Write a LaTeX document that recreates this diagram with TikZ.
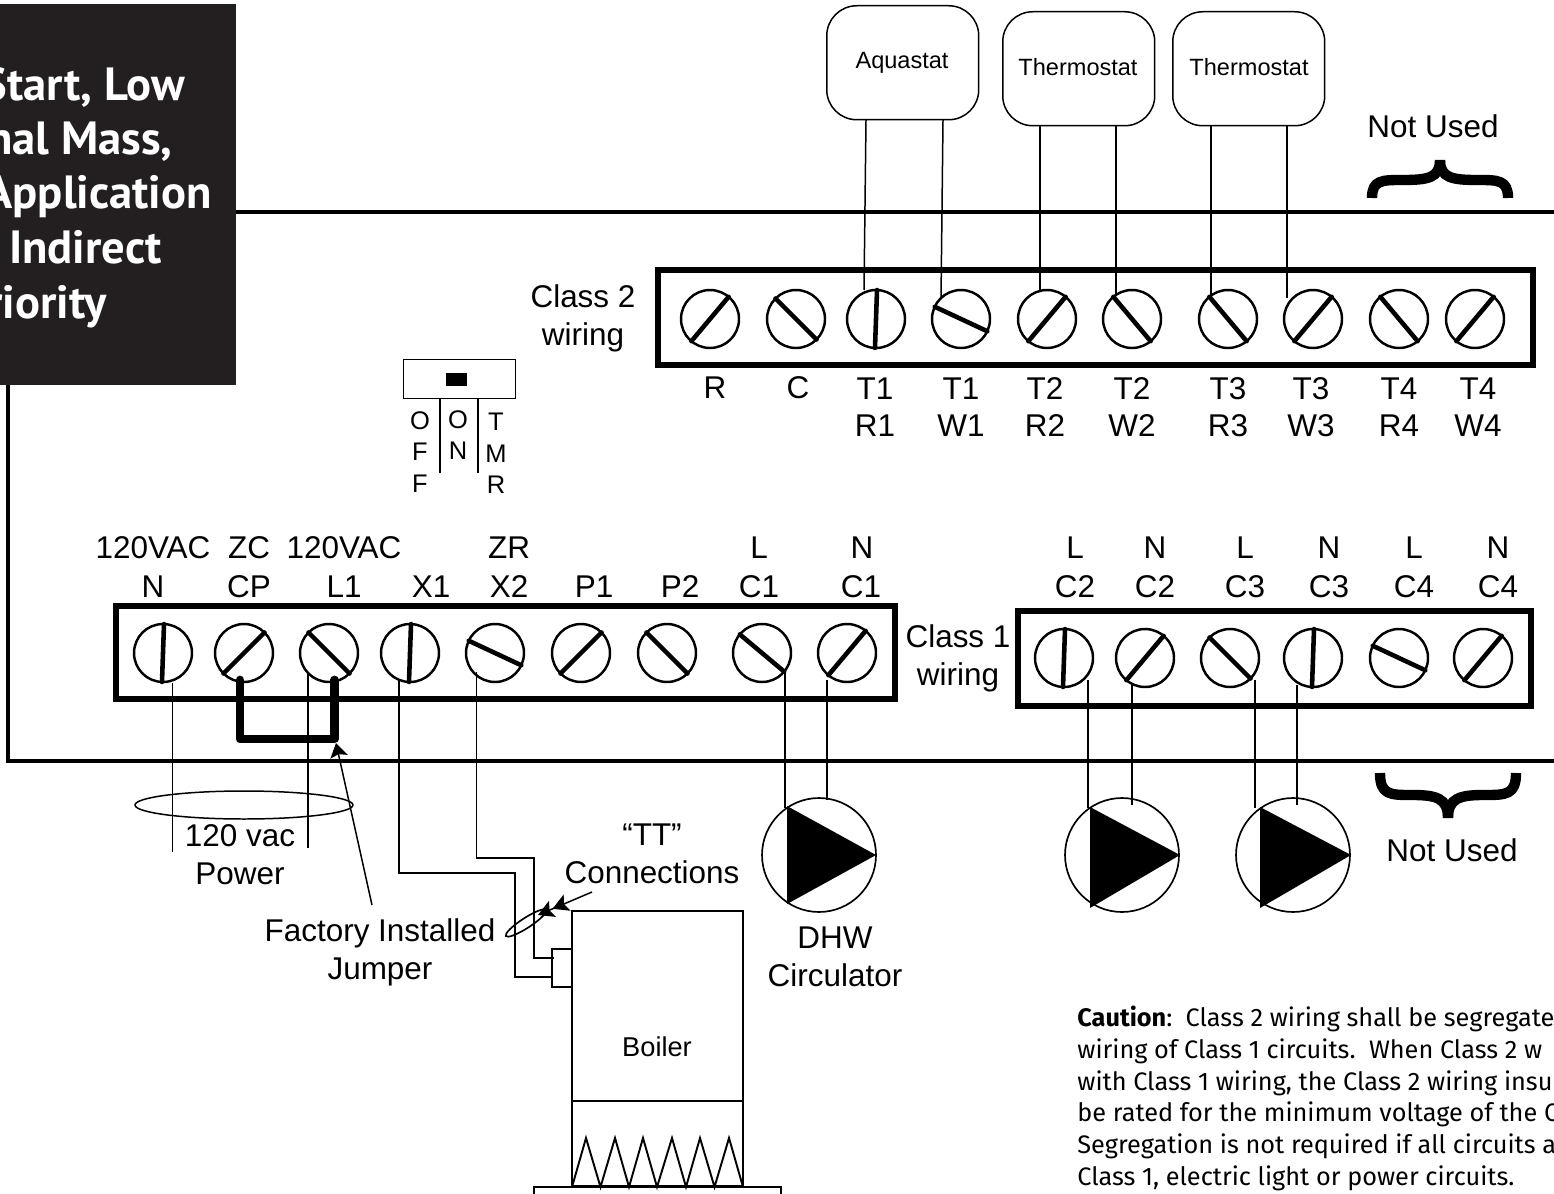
\documentclass[tikz,border=0pt]{standalone}
\usepackage{fontspec}
\setmainfont{Liberation Sans}
\newfontfamily\bannerfont{PT Sans}
\newfontfamily\cautionfont{Fira Sans}
\usetikzlibrary{shapes,arrows.meta}
\tikzstyle{lbl} = [inner sep=0pt,align=center,font=\fontsize{17.9}{21.6}\selectfont]
\tikzstyle{smalllbl} = [inner sep=0pt,align=center,font=\fontsize{13.4}{17.6}\selectfont]
\tikzstyle{switchlbl} = [inner sep=0pt,align=center,font=\fontsize{14.5}{17.9}\selectfont]
\tikzstyle{screw} = [circle,draw,line width=1.4pt,minimum size=1.16cm,inner sep=0pt,outer sep=0pt]
\tikzstyle{slot} = [line width=2.6pt,line cap=round]
\tikzstyle{wire} = [line width=0.85pt]
\tikzstyle{strip} = [rectangle,draw,line width=3.4pt,inner sep=0pt,outer sep=0pt,anchor=north west]
\tikzstyle{stat} = [rectangle,draw,rounded corners=0.6cm,line width=0.85pt,minimum width=3.04cm,minimum height=2.28cm,inner sep=0pt,anchor=north west]
\tikzstyle{pump} = [circle,draw,line width=0.95pt,minimum size=2.28cm,inner sep=0pt,outer sep=0pt]
\tikzstyle{frame} = [line width=1.9pt]
\tikzstyle{bracket} = [line width=5.9pt]
\tikzstyle{outline} = [line width=1.1pt]
\tikzstyle{pointer} = [line width=0.85pt,-{Stealth[length=8pt,width=10pt,inset=1.5pt]}]

\begin{document}
\begin{tikzpicture}[x=0.02cm,y=-0.02cm]
	\useasboundingbox (0,0) rectangle (1554,1193);

	\coordinate (frametop) at (236,212);
	\coordinate (frametopend) at (1554,212);
	\coordinate (frameleft) at (8,385);
	\coordinate (framecorner) at (8,761);
	\coordinate (framebotend) at (1554,761);
	\draw[frame] (frametop) -- (frametopend);
	\draw[frame] (frameleft) -- (framecorner) -- (framebotend);

	\node[fill={rgb,255:red,35;green,31;blue,32},minimum width=4.82cm,minimum height=7.62cm,inner sep=0pt,anchor=north west] (banner) at (-5,4) {};
	\foreach \n/\x/\y/\t in {a/185/100/{Start, Low},b/173/154/{nal Mass,},c/212/208/{Application},d/162/263/{Indirect},e/107/318/{riority}}
		\node[white,inner sep=0pt,anchor=base east,font=\bannerfont\bfseries\fontsize{26.5}{30}\selectfont] (banner\n) at (\x,\y) {\t};

	\node[stat] (aquastat) at (826,5) {};
	\node[stat] (thermostata) at (1002,11) {};
	\node[stat] (thermostatb) at (1172,11) {};
	\node[smalllbl] (aquastatlbl) at (902,63) {Aquastat};
	\node[smalllbl] (thermostatalbl) at (1078,67) {Thermostat};
	\node[smalllbl] (thermostatblbl) at (1249,67) {Thermostat};

	\node[lbl] (notusedtop) at (1433,126) {Not Used};
	\coordinate (bta) at (1372,198);
	\coordinate (btb) at (1440,160);
	\coordinate (btc) at (1508,198);
	\draw[bracket] (bta) .. controls (1372,180) and (1382,180) .. (1402,180) .. controls (1428,180) and (1440,178) .. (btb);
	\draw[bracket] (btc) .. controls (1508,180) and (1498,180) .. (1478,180) .. controls (1452,180) and (1440,178) .. (btb);

	\node[strip,minimum width=17.5cm,minimum height=1.9cm] (classtwo) at (658,270) {};
	\foreach \n/\x/\a/\b in {r/710/50/230,c/796/135/315,ta/876/88/268,tb/961/155/335,tc/1047/50/230,td/1132/130/310,te/1228/130/310,tf/1313/50/230,tg/1399/130/310,th/1475/50/230} {
		\node[screw] (s\n) at (\x,319) {};
		\draw[slot] (s\n.\a) -- (s\n.\b);
	}
	\node[lbl] (classtwolbl) at (583,318) {Class 2\\wiring};
	\node[lbl] (lblr) at (715,388) {R};
	\node[lbl] (lblc) at (798,388) {C};
	\foreach \n/\x/\ta/\tb in {ta/875/T1/R1,tb/961/T1/W1,tc/1045/T2/R2,td/1132/T2/W2,te/1228/T3/R3,tf/1311/T3/W3,tg/1399/T4/R4,th/1478/T4/W4} {
		\node[lbl,anchor=base] (lbl\n) at (\x,399) {\ta};
		\node[lbl,anchor=base] (sub\n) at (\x,436) {\tb};
	}

	\foreach \n/\xa/\ya/\xb/\yb in {a/866/120/864/290,b/943/120/941/298,c/1040/125/1040/290,d/1116/125/1116/296,e/1211/125/1211/298,f/1287/125/1287/298} {
		\coordinate (wt\n) at (\xa,\ya);
		\coordinate (wb\n) at (\xb,\yb);
		\draw[wire] (wt\n) -- (wb\n);
	}

	\node[rectangle,draw,line width=0.85pt,minimum width=2.24cm,minimum height=0.78cm,inner sep=0pt,anchor=north west] (switch) at (403,359) {};
	\node[fill,minimum width=0.42cm,minimum height=0.26cm,inner sep=0pt] (knob) at (456,379.5) {};
	\coordinate (diva) at (440,473);
	\coordinate (divb) at (478,473);
	\draw[wire] (diva |- switch.south) -- (diva);
	\draw[wire] (divb |- switch.south) -- (divb);
	\node[switchlbl,anchor=north] (off) at (420,411) {O\\F\\F};
	\node[switchlbl,anchor=north] (on) at (458,410) {O\\N};
	\node[switchlbl,anchor=north] (tmr) at (496,413) {T\\M\\R};

	\foreach \n/\x/\t in {a/153/120VAC,b/249/ZC,c/344/120VAC,d/509/ZR,e/759/L,f/862/N,g/1075/L,h/1155/N,i/1245/L,j/1329/N,k/1414/L,l/1498/N}
		\node[lbl,anchor=base] (topl\n) at (\x,558) {\t};
	\foreach \n/\x/\t in {a/153/N,b/249/CP,c/344/L1,d/431/X1,e/509/X2,f/594/P1,g/680/P2,h/759/C1,i/861/C1,j/1075/C2,k/1155/C2,l/1245/C3,m/1329/C3,n/1414/C4,o/1498/C4}
		\node[lbl,anchor=base] (botl\n) at (\x,597) {\t};

	\node[strip,minimum width=15.58cm,minimum height=1.86cm] (classoneleft) at (116,606) {};
	\foreach \n/\x/\a/\b in {la/163/88/268,lb/244/45/225,lc/329/135/315,ld/410/88/268,le/495/155/335,lf/581/45/225,lg/667/135/315,lh/762/140/320,li/847/50/230}{
		\node[screw] (s\n) at (\x,653) {};
		\draw[slot] (s\n.\a) -- (s\n.\b);
	}
	\node[strip,minimum width=10.26cm,minimum height=1.9cm] (classoneright) at (1018,611) {};
	\foreach \n/\x/\a/\b in {ra/1064/88/268,rb/1145/50/230,rc/1230/135/315,rd/1313/88/268,re/1399/155/335,rf/1483/50/230}{
		\node[screw] (s\n) at (\x,658) {};
		\draw[slot] (s\n.\a) -- (s\n.\b);
	}
	\node[lbl] (classonelbl) at (958,658) {Class 1\\wiring};

	\coordinate (jumpa) at (240,680);
	\coordinate (jumpb) at (240,739);
	\coordinate (jumpc) at (334.5,739);
	\coordinate (jumpd) at (334.5,680);
	\draw[line width=5pt,line join=round,line cap=round] (jumpa) -- (jumpb) -- (jumpc) -- (jumpd);

	\foreach \n/\x/\ya/\yb in {a/172.5/683/852,b/308/672/848,c/785/672/808,d/827/680/800,e/1088/680/808,f/1132/685/805,g/1255/680/808,h/1297/685/805} {
		\coordinate (wu\n) at (\x,\ya);
		\coordinate (wd\n) at (\x,\yb);
		\draw[wire] (wu\n) -- (wd\n);
	}

	\node[ellipse,draw,line width=0.85pt,minimum width=4.36cm,minimum height=0.56cm,inner sep=0pt] (powerloop) at (244,805) {};
	\node[lbl] (powerlbl) at (240,855) {120 vac\\Power};
	\node[lbl] (jumperlbl) at (380,952) {Factory Installed\\Jumper};
	\coordinate (jumperfrom) at (372,905);
	\coordinate (jumperto) at (336,743);
	\draw[pointer] (jumperfrom) -- (jumperto);

	\node[rectangle,draw,outline,minimum width=3.42cm,minimum height=5.5cm,inner sep=0pt,outer sep=0pt,anchor=north west] (boiler) at (572,911) {};
	\node[rectangle,draw,outline,minimum width=0.4cm,minimum height=0.76cm,inner sep=0pt,outer sep=0pt,anchor=north west] (ttblock) at (552,949) {};
	\node[rectangle,draw,outline,minimum width=4.94cm,minimum height=0.6cm,inner sep=0pt,outer sep=0pt,anchor=north west] (base) at (534,1187) {};
	\coordinate (burnera) at (572,1101);
	\coordinate (burnerb) at (743,1101);
	\draw[outline] (burnera) -- (burnerb);
	\draw[outline] (572,1187) -- (586,1138) -- (600.5,1187) -- (615,1138) -- (629,1187) -- (643,1138) -- (657,1187) -- (672,1138) -- (686,1187) -- (700,1138) -- (714.5,1187) -- (729,1138) -- (743,1187);
	\node[smalllbl,font=\fontsize{15.5}{18}\selectfont] (boilerlbl) at (657,1047) {Boiler};

	\coordinate (xa) at (399,680);
	\coordinate (xb) at (399,873);
	\coordinate (xc) at (515,873);
	\coordinate (xd) at (515,977);
	\draw[wire] (xa) -- (xb) -- (xc) -- (xd) -- (ttblock.west |- xd);
	\coordinate (ya) at (476.5,672);
	\coordinate (yb) at (476.5,858);
	\coordinate (yc) at (534,858);
	\coordinate (yd) at (534,958);
	\coordinate (ye) at (554,958);
	\draw[wire] (ya) -- (yb) -- (yc) -- (yd) -- (ye);

	\node[ellipse,draw,line width=0.95pt,minimum width=0.96cm,minimum height=0.2cm,inner sep=0pt,rotate=33] (ttloop) at (526,923) {};
	\node[lbl] (ttlbl) at (652,853.5) {“TT”\\Connections};
	\coordinate (ttfrom) at (592,892);
	\coordinate (ttto) at (538,915);
	\draw[line width=0.85pt,-{Stealth[length=9pt,width=10pt,inset=2pt]Stealth[length=9pt,width=10pt,inset=2pt]}] (ttfrom) -- (ttto);

	\foreach \n/\x/\lx/\tx/\top/\bot in {dhw/819/787/876/806/904,ca/1122/1090/1180/807/908,cb/1293/1260/1351/807/908} {
		\node[pump] (pump\n) at (\x,855) {};
		\coordinate (pa\n) at (\lx,\top);
		\coordinate (pb\n) at (\lx,\bot);
		\coordinate (pc\n) at (\tx,855);
		\fill (pa\n) -- (pc\n) -- (pb\n) -- cycle;
	}
	\node[lbl] (dhwlbl) at (835,957) {DHW\\Circulator};

	\coordinate (bba) at (1380,773);
	\coordinate (bbb) at (1448,818);
	\coordinate (bbc) at (1516,773);
	\draw[bracket] (bba) .. controls (1380,795) and (1390,795) .. (1412,795) .. controls (1436,795) and (1448,798) .. (bbb);
	\draw[bracket] (bbc) .. controls (1516,795) and (1506,795) .. (1484,795) .. controls (1460,795) and (1448,798) .. (bbb);
	\node[lbl] (notusedbot) at (1452,850) {Not Used};

	\node[inner sep=0pt,align=left,anchor=north west,font=\cautionfont\fontsize{14.4}{18}\selectfont] (caution) at (1077,1006) {\textbf{Caution}:\ \ Class 2 wiring shall be segregate\\wiring of Class 1 circuits.\ \ When Class 2 w\\with Class 1 wiring, the Class 2 wiring insu\\be rated for the minimum voltage of the C\\Segregation is not required if all circuits a\\Class 1, electric light or power circuits.};
\end{tikzpicture}
\end{document}
